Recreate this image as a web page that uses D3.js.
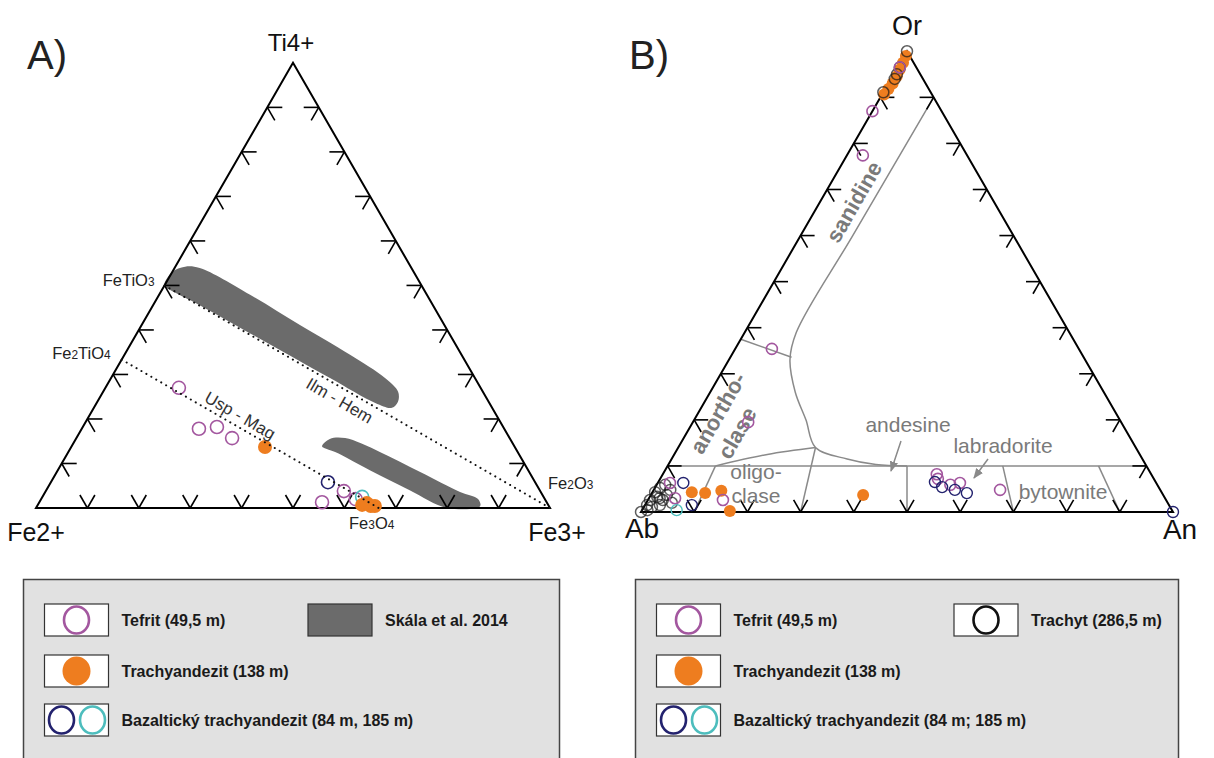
<!DOCTYPE html>
<html>
<head>
<meta charset="utf-8">
<script src="https://cdn.jsdelivr.net/npm/d3@7"></script>
<style>
  body { margin: 0; background: #fff; }
  svg { display: block; }
  text { font-family: "Liberation Sans", Arial, Helvetica, sans-serif; }
</style>
</head>
<body>
<svg id="chart" width="1214" height="758"></svg>
<script>
// ---------------------------------------------------------------
// Data
// ---------------------------------------------------------------
const tickFractions = [0.1, 0.2, 0.3, 0.4, 0.5, 0.6, 0.7, 0.8, 0.9];

// Panel A: Ti4+ – Fe2+ – Fe3+ ; each point is [Ti4+, Fe3+] (Fe2+ = remainder)
const tefritA = [[0.270, 0.143], [0.178, 0.228], [0.182, 0.261], [0.157, 0.303],
                 [0.013, 0.550], [0.038, 0.580], [0.020, 0.612]];
const trachyandezitA = [[0.137, 0.377], [0.007, 0.631], [0.011, 0.638], [0.0045, 0.649], [0.0045, 0.657]];
const bazaltNavyA = [[0.058, 0.539]];
const bazaltCyanA = [[0.025, 0.622]];

// Skála et al. 2014 fields, outlines as [Ti4+, Fe3+]
const skalaUpper = [[0.499, 0.0], [0.530, 0.0], [0.542, 0.019], [0.539, 0.049], [0.479, 0.177],
                    [0.411, 0.308], [0.344, 0.439], [0.292, 0.533], [0.261, 0.574], [0.238, 0.585],
                    [0.225, 0.580], [0.236, 0.542], [0.292, 0.426], [0.355, 0.297], [0.418, 0.168],
                    [0.467, 0.066], [0.490, 0.016]];
const skalaLower = [[0.139, 0.487], [0.155, 0.494], [0.157, 0.523], [0.126, 0.606], [0.081, 0.707],
                    [0.036, 0.807], [0.020, 0.850], [0.004, 0.862], [0.0, 0.800], [0.040, 0.707],
                    [0.085, 0.607], [0.126, 0.519], [0.135, 0.493]];

// Solid-solution joins: [Ti4+, Fe3+] end members
const uspMag = [[1 / 3, 0], [0, 2 / 3]];     // Fe2TiO4 – Fe3O4
const ilmHem = [[0.5, 0], [0, 1]];           // FeTiO3 – Fe2O3

// Panel B: Or (apex) – Ab (left) – An (right) ; each point is [Or, An]
const tefritB = [[0.870, 0.0], [0.774, 0.030], [0.965, 0.004], [0.354, 0.069], [0.195, 0.104],
                 [0.063, 0.023], [0.030, 0.049], [0.026, 0.141],
                 [0.082, 0.515], [0.072, 0.522], [0.059, 0.552], [0.063, 0.568], [0.048, 0.651]];
const trachyandezitB = [[0.990, 0.003], [0.975, 0.005], [0.960, 0.006], [0.945, 0.008], [0.930, 0.008],
                        [0.918, 0.006], [0.906, 0.004], [0.043, 0.074], [0.041, 0.100], [0.046, 0.128],
                        [0.002, 0.166], [0.037, 0.399]];
const trachytB = [[1.0, 0.0], [0.965, 0.004], [0.950, 0.006], [0.940, 0.007], [0.911, 0.0], [0.0, 0.0],
                  [0.026, 0.004], [0.043, 0.005], [0.052, 0.010], [0.026, 0.028], [0.037, 0.030],
                  [0.015, 0.028], [0.011, 0.015], [0.033, 0.014], [0.048, 0.031], [0.059, 0.016],
                  [0.015, 0.004], [0.020, 0.048], [0.004, 0.010], [0.030, 0.020]];
const bazaltNavyB = [[0.063, 0.048], [0.015, 0.088], [0.065, 0.520], [0.054, 0.539], [0.048, 0.566],
                     [0.041, 0.592], [0.0, 1.0]];
const bazaltCyanB = [[0.004, 0.065]];

// Feldspar field boundaries, [Or, An]
const sanidineLine = [[0.90, 0.100], [0.60, 0.098], [0.39, 0.097], [0.33, 0.115], [0.26, 0.160],
                      [0.20, 0.210], [0.14, 0.258], [0.115, 0.330], [0.103, 0.390], [0.10, 0.450]];
const anorthoclaseTop = [[0.375, 0.0], [0.336, 0.115]];
const anorthoclaseBottom = [[0.10, 0.090], [0.125, 0.175], [0.14, 0.258]];
const plagTop = [[0.10, 0.0], [0.10, 1 - 0.10]];     // Or = 10 % line from the Ab side to the An side
// plagioclase dividers: [An/(Ab+An), Or at upper end]
const plagDividers = [[0.1, 0.10], [0.3, 0.14], [0.5, 0.10], [0.7, 0.10], [0.9, 0.10]];

// Legend entries
const legendA = ["Tefrit (49,5 m)", "Skála et al. 2014", "Trachyandezit (138 m)", "Bazaltický trachyandezit (84 m, 185 m)"];
const legendB = ["Tefrit (49,5 m)", "Trachyt (286,5 m)", "Trachyandezit (138 m)", "Bazaltický trachyandezit (84 m; 185 m)"];

// ---------------------------------------------------------------
// Styling
// ---------------------------------------------------------------
const C = {
  tefrit: "#a3579f",
  orange: "#ee7d1f",
  navy: "#23226e",
  cyan: "#4dbdbd",
  trachyt: "#1a1a1a",
  field: "#6b6b6b",
  bound: "#8a8a8a",
  boundText: "#7a7a7a",
  legendBg: "#e1e1e1"
};

const svg = d3.select("#chart");

// Ternary projection built on linear scales: top component raises the point,
// right component moves it along the base.
function ternary(left, right, base) {
  const side = right - left;
  const h = side * Math.sqrt(3) / 2;
  const x = d3.scaleLinear().domain([0, 1]).range([left, right]);
  const y = d3.scaleLinear().domain([0, 1]).range([base, base - h]);
  const p = (top, rc) => [x(rc + top / 2), y(top)];
  return { x, y, p, L: p(0, 0), R: p(0, 1), T: p(1, 0) };
}

function unit(a, b) {
  const dx = b[0] - a[0], dy = b[1] - a[1], d = Math.hypot(dx, dy);
  return [dx / d, dy / d];
}

function drawFrame(g, t, len) {
  g.append("path")
    .attr("d", d3.line()([t.L, t.R, t.T]) + "Z")
    .attr("fill", "none").attr("stroke", "#000").attr("stroke-width", 2)
    .attr("stroke-linejoin", "miter");
  const edges = [
    { a: t.L, b: t.R, dirs: [unit(t.L, t.T), unit(t.R, t.T)] },
    { a: t.L, b: t.T, dirs: [unit(t.L, t.R), unit(t.T, t.R)] },
    { a: t.R, b: t.T, dirs: [unit(t.R, t.L), unit(t.T, t.L)] }
  ];
  const segs = [];
  edges.forEach(e => {
    tickFractions.forEach(f => {
      const px = e.a[0] + (e.b[0] - e.a[0]) * f;
      const py = e.a[1] + (e.b[1] - e.a[1]) * f;
      e.dirs.forEach(d => segs.push([[px, py], [px + d[0] * len, py + d[1] * len]]));
    });
  });
  g.append("g").selectAll("path").data(segs).join("path")
    .attr("d", d => d3.line()(d))
    .attr("stroke", "#000").attr("stroke-width", 1.6).attr("fill", "none");
}

function drawPoints(g, t, data, opt) {
  g.append("g").selectAll("circle").data(data).join("circle")
    .attr("cx", d => t.p(d[0], d[1])[0])
    .attr("cy", d => t.p(d[0], d[1])[1])
    .attr("r", opt.r)
    .attr("fill", opt.fill || "none")
    .attr("stroke", opt.stroke || "none")
    .attr("stroke-width", opt.sw || 0)
    .attr("stroke-opacity", opt.so == null ? 1 : opt.so);
}

// ---------------------------------------------------------------
// Panel A
// ---------------------------------------------------------------
const tA = ternary(36, 550, 508);
const gA = svg.append("g");

const blob = d3.line().curve(d3.curveCatmullRomClosed.alpha(0.5));
[skalaUpper, skalaLower].forEach(poly => {
  gA.append("path")
    .attr("d", blob(poly.map(d => tA.p(d[0], d[1]))))
    .attr("fill", C.field);
});

drawFrame(gA, tA, 15);

drawPoints(gA, tA, tefritA, { r: 6.5, stroke: C.tefrit, sw: 1.6 });
drawPoints(gA, tA, bazaltCyanA, { r: 6.5, stroke: C.cyan, sw: 1.6 });
drawPoints(gA, tA, trachyandezitA, { r: 7, fill: C.orange });
drawPoints(gA, tA, bazaltNavyA, { r: 6.5, stroke: C.navy, sw: 1.6 });

[uspMag, ilmHem].forEach(seg => {
  gA.append("path")
    .attr("d", d3.line()(seg.map(d => tA.p(d[0], d[1]))))
    .attr("stroke", "#111").attr("stroke-width", 2)
    .attr("stroke-linecap", "round")
    .attr("stroke-dasharray", "0.1,5.6")
    .attr("fill", "none");
});

// join labels, rotated along each join
function joinLabel(g, t, seg, frac, offset, label) {
  const a = t.p(seg[0][0], seg[0][1]), b = t.p(seg[1][0], seg[1][1]);
  const ang = Math.atan2(b[1] - a[1], b[0] - a[0]);
  const cx = a[0] + (b[0] - a[0]) * frac - Math.sin(ang) * offset;
  const cy = a[1] + (b[1] - a[1]) * frac + Math.cos(ang) * offset;
  g.append("text")
    .attr("transform", `translate(${cx},${cy}) rotate(${ang * 180 / Math.PI})`)
    .attr("text-anchor", "middle").attr("dy", "0.35em")
    .attr("font-size", 17).attr("fill", "#333").text(label);
}
joinLabel(gA, tA, uspMag, 0.44, -11, "Usp - Mag");
joinLabel(gA, tA, ilmHem, 0.47, 12, "Ilm - Hem");

function chemLabel(g, x, y, parts, anchor, size) {
  const tx = g.append("text").attr("x", x).attr("y", y)
    .attr("text-anchor", anchor).attr("font-size", size).attr("fill", "#222");
  parts.forEach(p => {
    tx.append("tspan").attr("font-size", p[1] ? size * 0.72 : size).text(p[0]);
  });
}
{
  const fti = tA.p(ilmHem[0][0], ilmHem[0][1]);
  const fti2 = tA.p(uspMag[0][0], uspMag[0][1]);
  const fmag = tA.p(uspMag[1][0], uspMag[1][1]);
  chemLabel(gA, fti[0] - 10, fti[1] + 1, [["FeTiO", 0], ["3", 1]], "end", 16.5);
  chemLabel(gA, fti2[0] - 11, fti2[1] - 1, [["Fe", 0], ["2", 1], ["TiO", 0], ["4", 1]], "end", 16.5);
  chemLabel(gA, tA.R[0] - 2, tA.R[1] - 19, [["Fe", 0], ["2", 1], ["O", 0], ["3", 1]], "start", 16.5);
  chemLabel(gA, fmag[0] - 7, fmag[1] + 21, [["Fe", 0], ["3", 1], ["O", 0], ["4", 1]], "middle", 16.5);
}

gA.append("text").attr("x", 27).attr("y", 69).attr("font-size", 40).attr("fill", "#222").text("A)");
gA.append("text").attr("x", tA.T[0] - 2).attr("y", tA.T[1] - 12).attr("text-anchor", "middle")
  .attr("font-size", 24).attr("fill", "#111").text("Ti4+");
gA.append("text").attr("x", tA.L[0]).attr("y", tA.L[1] + 33).attr("text-anchor", "middle")
  .attr("font-size", 25).attr("fill", "#111").text("Fe2+");
gA.append("text").attr("x", tA.R[0] + 7).attr("y", tA.R[1] + 33).attr("text-anchor", "middle")
  .attr("font-size", 25).attr("fill", "#111").text("Fe3+");

// ---------------------------------------------------------------
// Panel B
// ---------------------------------------------------------------
const tB = ternary(641, 1173, 512);
const gB = svg.append("g");

const bline = d3.line().curve(d3.curveCatmullRom.alpha(0.5));
const boundStyle = sel => sel.attr("fill", "none").attr("stroke", C.bound).attr("stroke-width", 1.5);
gB.append("path").attr("d", bline(sanidineLine.map(d => tB.p(d[0], d[1])))).call(boundStyle);
gB.append("path").attr("d", d3.line()(anorthoclaseTop.map(d => tB.p(d[0], d[1])))).call(boundStyle);
gB.append("path").attr("d", bline(anorthoclaseBottom.map(d => tB.p(d[0], d[1])))).call(boundStyle);
gB.append("path").attr("d", d3.line()(plagTop.map(d => tB.p(d[0], d[1])))).call(boundStyle);
plagDividers.forEach(([r, orTop]) => {
  const top = tB.p(orTop, r * (1 - orTop));
  const bot = tB.p(0, r);
  gB.append("path").attr("d", d3.line()([top, bot])).call(boundStyle);
});

drawFrame(gB, tB, 14);

// field names
function fieldText(g, x, y, rot, label, size, bold) {
  g.append("text")
    .attr("transform", `translate(${x},${y}) rotate(${rot})`)
    .attr("text-anchor", "middle").attr("dy", "0.35em")
    .attr("font-size", size).attr("font-weight", bold ? "bold" : "normal")
    .attr("fill", C.boundText).text(label);
}
fieldText(gB, 854, 202, -60, "sanidine", 22, true);
fieldText(gB, 718, 413, -60, "anortho-", 22, true);
fieldText(gB, 737, 433, -60, "clase", 22, true);
fieldText(gB, 756, 472, 0, "oligo-", 21, false);
fieldText(gB, 756, 496, 0, "clase", 21, false);
fieldText(gB, 908, 425, 0, "andesine", 21, false);
fieldText(gB, 1003, 446, 0, "labradorite", 21, false);
fieldText(gB, 1063, 492, 0, "bytownite", 21, false);

const defs = svg.append("defs");
defs.append("marker").attr("id", "arr").attr("viewBox", "0 0 10 10")
  .attr("refX", 9).attr("refY", 5).attr("markerWidth", 7).attr("markerHeight", 7)
  .attr("orient", "auto")
  .append("path").attr("d", "M0,1 L10,5 L0,9 Z").attr("fill", C.bound);
[[[901, 441], [891, 471]], [[988, 459], [974, 478]]].forEach(seg => {
  gB.append("path").attr("d", d3.line()(seg)).attr("stroke", C.bound)
    .attr("stroke-width", 1.5).attr("fill", "none").attr("marker-end", "url(#arr)");
});

drawPoints(gB, tB, trachyandezitB, { r: 6, fill: C.orange });
drawPoints(gB, tB, trachytB, { r: 5.5, stroke: C.trachyt, sw: 1.5, so: 0.7 });
drawPoints(gB, tB, tefritB, { r: 5.5, stroke: C.tefrit, sw: 1.6 });
drawPoints(gB, tB, bazaltNavyB, { r: 5.5, stroke: C.navy, sw: 1.4 });
drawPoints(gB, tB, bazaltCyanB, { r: 5.5, stroke: C.cyan, sw: 1.4 });

gB.append("text").attr("x", 629).attr("y", 69).attr("font-size", 40).attr("fill", "#222").text("B)");
gB.append("text").attr("x", tB.T[0]).attr("y", tB.T[1] - 16).attr("text-anchor", "middle")
  .attr("font-size", 27).attr("fill", "#111").text("Or");
gB.append("text").attr("x", tB.L[0] + 1).attr("y", tB.L[1] + 26).attr("text-anchor", "middle")
  .attr("font-size", 28).attr("fill", "#111").text("Ab");
gB.append("text").attr("x", tB.R[0] + 7).attr("y", tB.R[1] + 27).attr("text-anchor", "middle")
  .attr("font-size", 28).attr("fill", "#111").text("An");

// ---------------------------------------------------------------
// Legends
// ---------------------------------------------------------------
function legendBox(x0, w, labels, secondKind, col2) {
  const g = svg.append("g");
  g.append("rect").attr("x", x0).attr("y", 579.5).attr("width", w).attr("height", 220)
    .attr("fill", C.legendBg).attr("stroke", "#444").attr("stroke-width", 1.5);
  const rows = [604, 655, 704];
  const sw = 64, sh = 32;
  const sx = x0 + 21;
  const entries = [
    { x: sx, y: rows[0], kind: "tefrit", label: labels[0] },
    { x: x0 + col2, y: rows[0], kind: secondKind, label: labels[1] },
    { x: sx, y: rows[1], kind: "orange", label: labels[2] },
    { x: sx, y: rows[2], kind: "bazalt", label: labels[3] }
  ];
  entries.forEach(e => {
    g.append("rect").attr("x", e.x).attr("y", e.y).attr("width", sw).attr("height", sh)
      .attr("fill", e.kind === "skala" ? C.field : "#fff")
      .attr("stroke", "#333").attr("stroke-width", 1.2);
    const cx = e.x + sw / 2, cy = e.y + sh / 2;
    if (e.kind === "tefrit" || e.kind === "trachyt") {
      g.append("ellipse").attr("cx", cx).attr("cy", cy).attr("rx", 12.5).attr("ry", 13.5)
        .attr("fill", "none").attr("stroke", e.kind === "tefrit" ? C.tefrit : "#111").attr("stroke-width", 2.6);
    } else if (e.kind === "orange") {
      g.append("ellipse").attr("cx", cx).attr("cy", cy).attr("rx", 14).attr("ry", 14.5).attr("fill", C.orange);
    } else if (e.kind === "bazalt") {
      g.append("ellipse").attr("cx", e.x + 17).attr("cy", cy).attr("rx", 12.5).attr("ry", 13.5)
        .attr("fill", "none").attr("stroke", C.navy).attr("stroke-width", 2.6);
      g.append("ellipse").attr("cx", e.x + 48).attr("cy", cy).attr("rx", 12.5).attr("ry", 13.5)
        .attr("fill", "none").attr("stroke", C.cyan).attr("stroke-width", 2.6);
    }
    g.append("text").attr("x", e.x + sw + 13).attr("y", cy + 6)
      .attr("font-size", 16).attr("font-weight", "bold").attr("fill", "#1a1a1a").text(e.label);
  });
}
legendBox(23.5, 536, legendA, "skala", 284.5);
legendBox(635.5, 543, legendB, "trachyt", 318.5);
</script>
</body>
</html>
